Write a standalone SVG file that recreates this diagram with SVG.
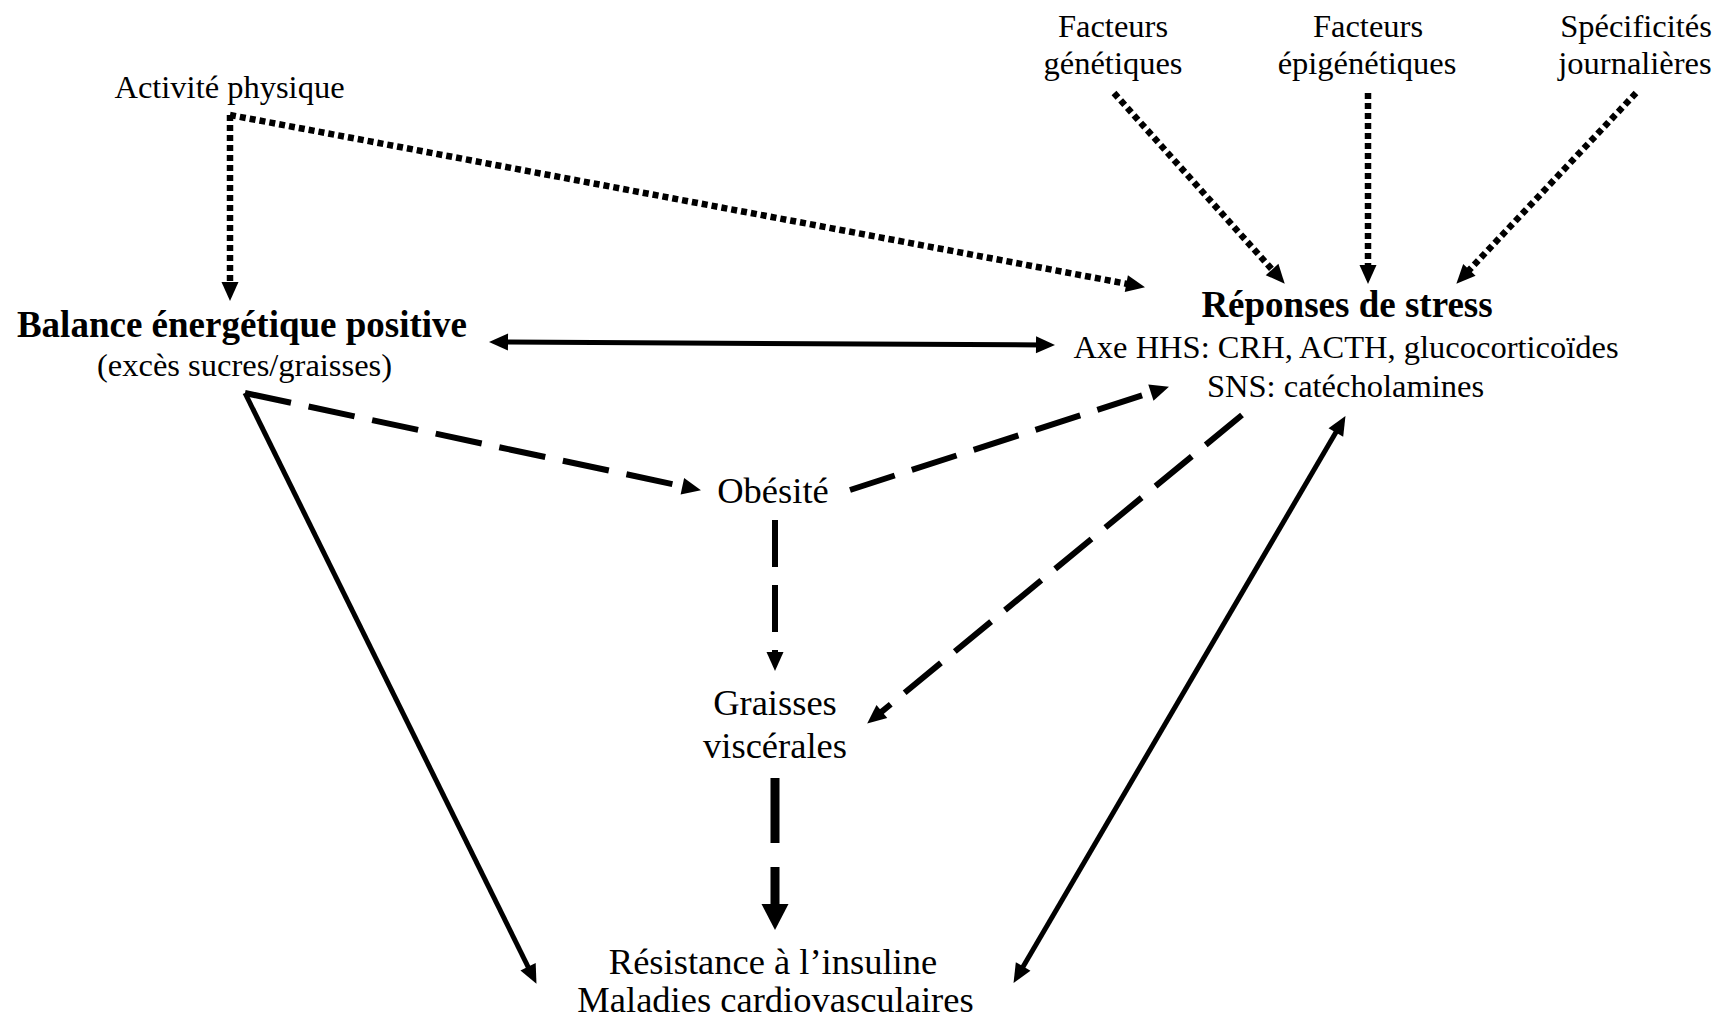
<svg xmlns="http://www.w3.org/2000/svg" width="1717" height="1023" viewBox="0 0 1717 1023">
<style>
text{font-family:"Liberation Serif","Times New Roman",serif;fill:#000;text-anchor:middle}
.s{font-size:32.5px}
.m{font-size:36.5px}
.b{font-size:37px;font-weight:bold}
.c{fill:none;stroke:#000}
.dot{stroke-width:6.5;stroke-dasharray:6 4}
.dash{stroke-width:6;stroke-dasharray:47 18}
.solid{stroke-width:5}
.thick{stroke-width:9;stroke-dasharray:65 24}
</style>
<defs>
<marker id="a" markerUnits="userSpaceOnUse" markerWidth="18" markerHeight="17" refX="8" refY="8.5" orient="auto-start-reverse" overflow="visible">
<path d="M0,0 L19,8.5 L0,17 z" fill="#000"/>
</marker>
<marker id="A" markerUnits="userSpaceOnUse" markerWidth="26" markerHeight="27" refX="10" refY="13.5" orient="auto" overflow="visible">
<path d="M0,0 L26,13.5 L0,27 z" fill="#000"/>
</marker>
</defs>
<rect width="1717" height="1023" fill="#fff"/>

<g id="connectors">
<path class="c dot" d="M230,115 L230,290" marker-end="url(#a)"/>
<path class="c dot" d="M230,115 L1134.2,285.2" marker-end="url(#a)"/>
<path class="c dot" d="M1114,93 L1277.4,275.5" marker-end="url(#a)"/>
<path class="c dot" d="M1368,93 L1368,273" marker-end="url(#a)"/>
<path class="c dot" d="M1636,93 L1463.9,275.7" marker-end="url(#a)"/>
<path class="c solid" d="M500,342 L1044,344.9" marker-start="url(#a)" marker-end="url(#a)"/>
<path class="c dash" d="M245,393 L690.2,487.9" marker-end="url(#a)"/>
<path class="c solid" d="M245,393 L531.6,974" marker-end="url(#a)"/>
<path class="c dash" d="M850,490 L1158.5,390.1" marker-end="url(#a)"/>
<path class="c dash" d="M1242,415 L875.7,716.6" marker-end="url(#a)"/>
<path class="c solid" d="M1339.9,425.6 L1019.1,973.4" marker-start="url(#a)" marker-end="url(#a)"/>
<path class="c dash" d="M775,520 L775,660" marker-end="url(#a)"/>
<path class="c thick" d="M775,778 L775,914" marker-end="url(#A)"/>
</g>

<g id="activite"><text class="s" x="229.5" y="98">Activité physique</text></g>
<g id="balance">
<text class="b" x="242" y="337">Balance énergétique positive</text>
<text class="s" x="244.5" y="376">(excès sucres/graisses)</text>
</g>
<g id="genetiques">
<text class="s" x="1113" y="37">Facteurs</text>
<text class="s" x="1113" y="74">génétiques</text>
</g>
<g id="epigenetiques">
<text class="s" x="1368" y="37">Facteurs</text>
<text class="s" x="1367" y="74">épigénétiques</text>
</g>
<g id="specificites">
<text class="s" x="1636" y="37">Spécificités</text>
<text class="s" x="1635" y="74">journalières</text>
</g>
<g id="stress">
<text class="b" x="1347" y="317">Réponses de stress</text>
<text class="s" x="1346" y="358">Axe HHS: CRH, ACTH, glucocorticoïdes</text>
<text class="s" x="1345.5" y="397">SNS: catécholamines</text>
</g>
<g id="obesite"><text class="m" x="773" y="503">Obésité</text></g>
<g id="graisses">
<text class="m" x="775" y="715">Graisses</text>
<text class="m" x="775" y="758">viscérales</text>
</g>
<g id="resistance">
<text class="m" x="773" y="974">Résistance à l’insuline</text>
<text class="m" x="775.5" y="1012">Maladies cardiovasculaires</text>
</g>
</svg>
